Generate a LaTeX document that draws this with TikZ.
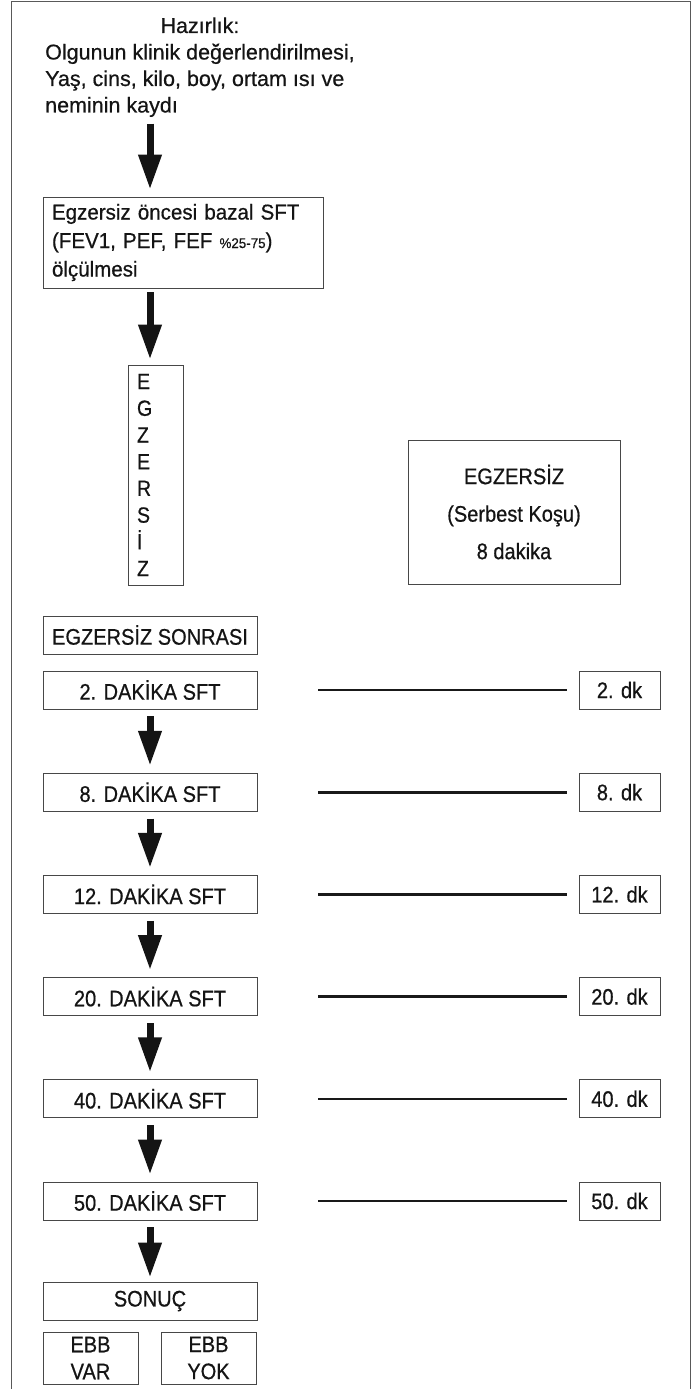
\documentclass[tikz,border=0pt]{standalone}
\usepackage{fontspec}
\setmainfont{Liberation Sans}[FakeStretch=0.89,FakeBold=0.6]
\newfontfamily\titlefont{Liberation Sans}[FakeStretch=1.0,FakeBold=0.6]
\newfontfamily\prefont{Liberation Sans}[FakeStretch=0.955,FakeBold=0.6]
\usetikzlibrary{arrows.meta}
\tikzset{
  txt/.style={font=\fontsize{22.5pt}{27pt}\selectfont, text=black!92},
  box/.style={txt, draw=black!72, line width=0.9pt, minimum height=38pt, inner sep=0pt},
  flow/.style={draw=black!92, line width=7pt, -{Triangle[width=22pt,length=35pt]}, shorten <=7pt, shorten >=7pt},
  link/.style={draw=black!90, line width=2.6pt, shorten <=61pt, shorten >=12pt},
  frame/.style={draw=black!65, line width=1.4pt},
}
\begin{document}
\begin{tikzpicture}[x=1pt,y=-1pt]
\useasboundingbox (0,0) rectangle (694,1389);
\draw[frame] (11.5,1389) -- (11.5,1.7) -- (690.7,1.7) -- (690.7,1389);
\coordinate (ax) at (150,0);
\node[txt, anchor=base west, inner sep=0pt, font=\titlefont\fontsize{21.5pt}{26.5pt}\selectfont] (title) at (45,33)
  {\begin{tabular}[t]{@{}l@{}}\multicolumn{1}{@{}c@{}}{Hazırlık:}\\Olgunun klinik değerlendirilmesi,\\Yaş, cins, kilo, boy, ortam ısı ve\\neminin kaydı\end{tabular}};
\node[box, text width=262pt, inner xsep=9pt, minimum height=91pt, align=left, font=\prefont\fontsize{21.5pt}{28.5pt}\selectfont] (pre) at (183,242.5)
  {Egzersiz öncesi bazal SFT\\(FEV1, PEF, FEF {\fontsize{14pt}{14pt}\selectfont\%25-75})\\ölçülmesi};
\node[box, text width=37pt, inner xsep=9pt, minimum height=220pt, align=left, font=\fontsize{22pt}{26.7pt}\selectfont] (vbox) at (155.5,475)
  {E\\G\\Z\\E\\R\\S\\İ\\Z};
\node[box, minimum width=212pt, minimum height=144pt, align=center, font=\fontsize{22.5pt}{37.5pt}\selectfont] (ex) at (514,512)
  {EGZERSİZ\\(Serbest Koşu)\\8 dakika};
\node[box, minimum width=214pt] (post) at (150,635) {EGZERSİZ SONRASI};
\foreach \m [count=\i from 0] in {2,8,12,20,40,50} {
  \node[box, minimum width=214pt] (d\i) at (150,690+102.2*\i) {\m. DAKİKA SFT};
  \node[box, minimum width=81pt] (k\i) at (619.5,690+102.2*\i) {\m. dk};
  \draw[link] (d\i.east) -- (k\i.west);
}
\node[box, minimum width=214pt] (res) at (150,1301) {SONUÇ};
\node[box, minimum width=95pt, minimum height=52pt, align=center] (var) at (90.5,1358) {EBB\\VAR};
\node[box, minimum width=95pt, minimum height=52pt, align=center] (yok) at (208.5,1358) {EBB\\YOK};
\draw[flow, shorten <=3pt] (title.south -| ax) -- (pre.north -| ax);
\draw[flow, shorten <=4pt, shorten >=5pt] (pre.south -| ax) -- (vbox.north -| ax);
\foreach \i [evaluate=\i as \j using int(\i+1)] in {0,...,4}
  \draw[flow] (d\i.south) -- (d\j.north);
\draw[flow, shorten >=4pt] (d5.south) -- (res.north);
\end{tikzpicture}
\end{document}
